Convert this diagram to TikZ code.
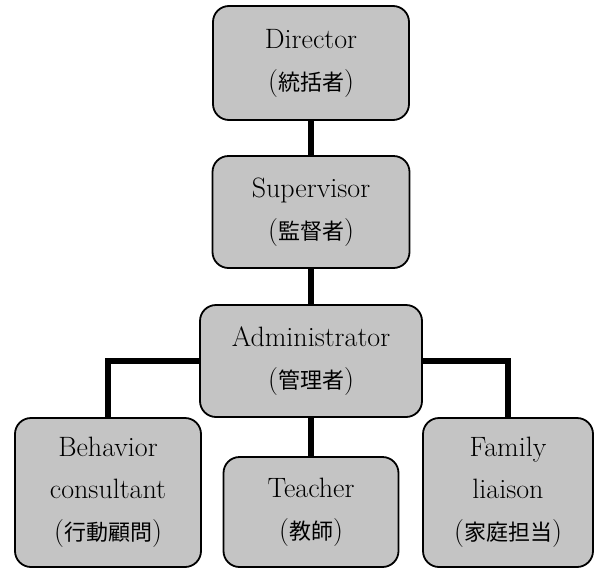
\documentclass[tikz,border=0pt]{standalone}
\usepackage{fontspec}
\newfontfamily\jpfont{Noto Sans CJK JP}
\newcommand{\jp}[1]{{\jpfont\fontsize{22}{42}\selectfont #1}}

\tikzset{
    rolebox/.style={draw=black, line width=1.8pt, rounded corners=16pt,
        fill=black!23, align=center, inner sep=0pt,
        font=\fontsize{28}{42}\selectfont},
    link/.style={line width=5.5pt}
}

\begin{document}
\begin{tikzpicture}[x=1pt, y=-1pt]

    % Fix the frame of the picture
    \useasboundingbox (0,0) rectangle (594,568);

    % Draw the boxes of the chain of command
    \node[rolebox, minimum width=196pt, minimum height=114pt] (director) at (311,63)
        {Director\\(\jp{統括者})};
    \node[rolebox, minimum width=197pt, minimum height=112pt] (supervisor) at (311,212)
        {Supervisor\\(\jp{監督者})};
    \node[rolebox, minimum width=222pt, minimum height=112pt] (admin) at (311,361)
        {Administrator\\(\jp{管理者})};

    % Draw the boxes of the bottom row
    \node[rolebox, minimum width=186pt, minimum height=149pt] (behavior) at (108,492.5)
        {Behavior\\consultant\\(\jp{行動顧問})};
    \node[rolebox, minimum width=175pt, minimum height=110pt] (teacher) at (311,512)
        {Teacher\\(\jp{教師})};
    \node[rolebox, minimum width=170pt, minimum height=149pt] (family) at (508,492.5)
        {Family\\liaison\\(\jp{家庭担当})};

    % Draw the connecting lines
    \draw[link] (director) -- (supervisor);
    \draw[link] (supervisor) -- (admin);
    \draw[link] (admin) -- (teacher);
    \draw[link] (admin) -| (behavior);
    \draw[link] (admin) -| (family);

\end{tikzpicture}
\end{document}
